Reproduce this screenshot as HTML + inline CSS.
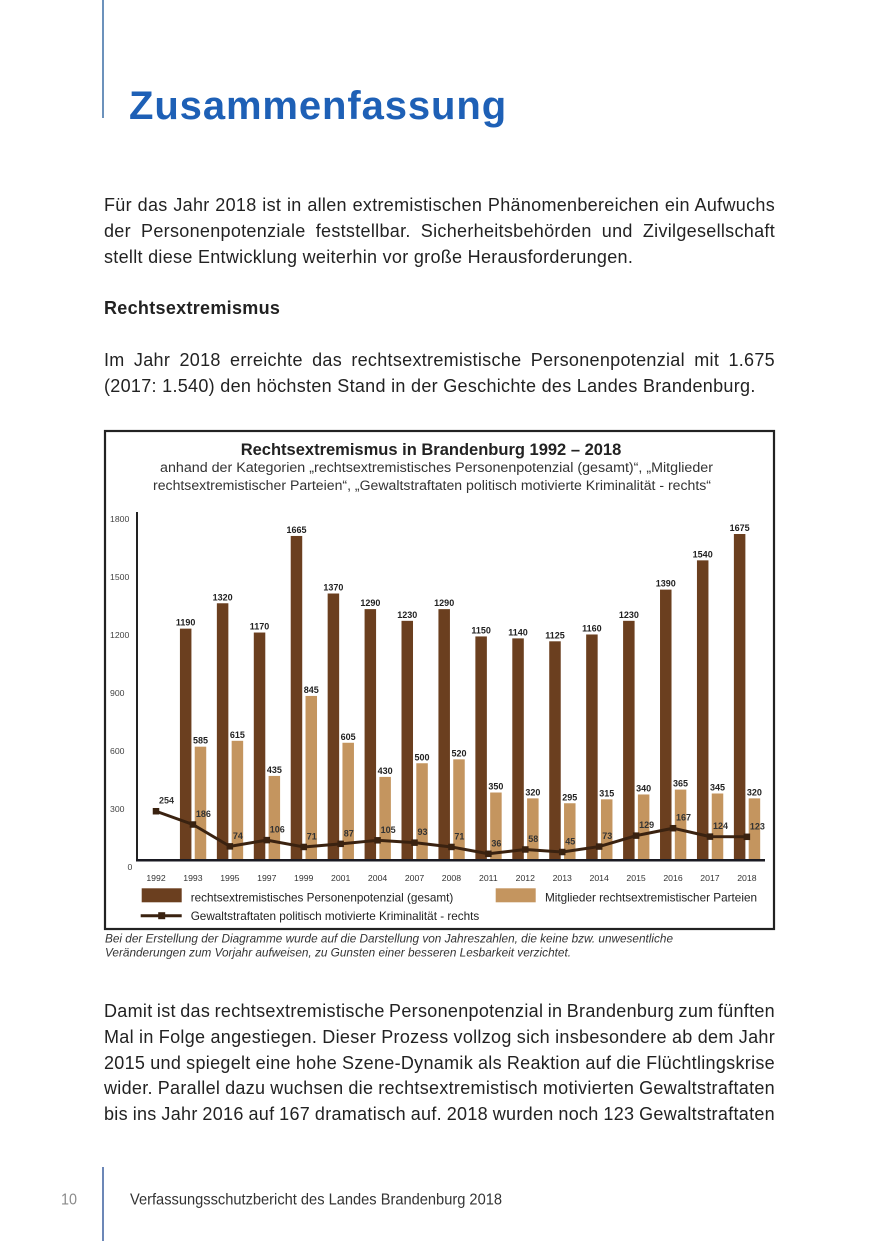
<!DOCTYPE html>
<html>
<head>
<meta charset="utf-8">
<style>
  html, body { margin:0; padding:0; background:#fff; }
  body { width:875px; height:1241px; position:relative; overflow:hidden;
         font-family:"Liberation Sans", Arial, sans-serif; color:#222; }
  .ln { position:absolute; left:104px; width:671px; font-size:18px; line-height:26px;
        letter-spacing:0.3px; white-space:normal; }
  .j { text-align:justify; text-align-last:justify; word-spacing:-4px; }
  .h1 { position:absolute; left:129px; top:86px; font-size:40px; line-height:40px;
        font-weight:bold; color:#1e60b6; letter-spacing:0.9px; white-space:nowrap; }
  svg { position:absolute; left:0; top:0; }
</style>
</head>
<body>

<div class="h1">Zusammenfassung</div>

<div class="ln j" style="top:192px">Für das Jahr 2018 ist in allen extremistischen Phänomenbereichen ein Aufwuchs</div>
<div class="ln j" style="top:218px">der Personenpotenziale feststellbar. Sicherheitsbehörden und Zivilgesellschaft</div>
<div class="ln" style="top:244px">stellt diese Entwicklung weiterhin vor große Herausforderungen.</div>

<div class="ln" style="top:295px;font-weight:bold">Rechtsextremismus</div>

<div class="ln j" style="top:347px">Im Jahr 2018 erreichte das rechtsextremistische Personenpotenzial mit 1.675</div>
<div class="ln" style="top:372.6px">(2017: 1.540) den höchsten Stand in der Geschichte des Landes Brandenburg.</div>

<div class="ln j" style="top:998.1px">Damit ist das rechtsextremistische Personenpotenzial in Brandenburg zum fünften</div>
<div class="ln j" style="top:1024.1px">Mal in Folge angestiegen. Dieser Prozess vollzog sich insbesondere ab dem Jahr</div>
<div class="ln j" style="top:1049.8px">2015 und spiegelt eine hohe Szene-Dynamik als Reaktion auf die Flüchtlingskrise</div>
<div class="ln j" style="top:1075.1px">wider. Parallel dazu wuchsen die rechtsextremistisch motivierten Gewaltstraftaten</div>
<div class="ln j" style="top:1100.8px">bis ins Jahr 2016 auf 167 dramatisch auf. 2018 wurden noch 123 Gewaltstraftaten</div>

<svg width="875" height="1241" viewBox="0 0 875 1241" xmlns="http://www.w3.org/2000/svg" font-family="Liberation Sans, Arial, sans-serif">
  <!-- page rules -->
  <line x1="103" y1="0" x2="103" y2="118" stroke="#3b6ea5" stroke-width="1.5"/>
  <line x1="103" y1="1167" x2="103" y2="1241" stroke="#3b5f9f" stroke-width="1.5"/>
  <text x="61" y="1204.3" font-size="16" fill="#8a8a8a" textLength="16" lengthAdjust="spacingAndGlyphs">10</text>
  <text x="130" y="1204.3" font-size="16" fill="#333" textLength="372" lengthAdjust="spacingAndGlyphs">Verfassungsschutzbericht des Landes Brandenburg 2018</text>

  <!-- chart box -->
  <rect x="105" y="431" width="669" height="498" fill="#fff" stroke="#222" stroke-width="2.2"/>

  <text x="431" y="455" font-size="16.5" font-weight="bold" fill="#222" text-anchor="middle">Rechtsextremismus in Brandenburg 1992 – 2018</text>
  <text x="436.5" y="472" font-size="14.2" fill="#333" text-anchor="middle" textLength="553" lengthAdjust="spacingAndGlyphs">anhand der Kategorien „rechtsextremistisches Personenpotenzial (gesamt)“, „Mitglieder</text>
  <text x="432" y="490" font-size="14.1" fill="#333" text-anchor="middle" textLength="558" lengthAdjust="spacingAndGlyphs">rechtsextremistischer Parteien“, „Gewaltstraftaten politisch motivierte Kriminalität - rechts“</text>

  <!-- y labels -->
  <g font-size="8.7" fill="#444">
    <text x="110" y="522">1800</text>
    <text x="110" y="580">1500</text>
    <text x="110" y="638">1200</text>
    <text x="110" y="696">900</text>
    <text x="110" y="754">600</text>
    <text x="110" y="812">300</text>
    <text x="127.5" y="870">0</text>
  </g>

  <!-- dark bars -->
  <g fill="#6b3f1f">
    <rect x="179.93" y="628.63" width="11.5" height="231.37"/>
    <rect x="216.86" y="603.27" width="11.5" height="256.73"/>
    <rect x="253.79" y="632.53" width="11.5" height="227.47"/>
    <rect x="290.72" y="535.96" width="11.5" height="324.04"/>
    <rect x="327.65" y="593.51" width="11.5" height="266.49"/>
    <rect x="364.58" y="609.12" width="11.5" height="250.88"/>
    <rect x="401.51" y="620.83" width="11.5" height="239.17"/>
    <rect x="438.44" y="609.12" width="11.5" height="250.88"/>
    <rect x="475.37" y="636.43" width="11.5" height="223.57"/>
    <rect x="512.30" y="638.39" width="11.5" height="221.61"/>
    <rect x="549.23" y="641.31" width="11.5" height="218.69"/>
    <rect x="586.16" y="634.48" width="11.5" height="225.52"/>
    <rect x="623.09" y="620.83" width="11.5" height="239.17"/>
    <rect x="660.02" y="589.61" width="11.5" height="270.39"/>
    <rect x="696.95" y="560.35" width="11.5" height="299.65"/>
    <rect x="733.88" y="534.01" width="11.5" height="325.99"/>
  </g>
  <!-- light bars -->
  <g fill="#c4955f">
    <rect x="194.73" y="746.67" width="11.5" height="113.33"/>
    <rect x="231.66" y="740.81" width="11.5" height="119.19"/>
    <rect x="268.59" y="775.93" width="11.5" height="84.07"/>
    <rect x="305.52" y="695.94" width="11.5" height="164.06"/>
    <rect x="342.45" y="742.76" width="11.5" height="117.24"/>
    <rect x="379.38" y="776.91" width="11.5" height="83.09"/>
    <rect x="416.31" y="763.25" width="11.5" height="96.75"/>
    <rect x="453.24" y="759.35" width="11.5" height="100.65"/>
    <rect x="490.17" y="792.51" width="11.5" height="67.49"/>
    <rect x="527.10" y="798.37" width="11.5" height="61.63"/>
    <rect x="564.03" y="803.25" width="11.5" height="56.75"/>
    <rect x="600.96" y="799.34" width="11.5" height="60.66"/>
    <rect x="637.89" y="794.47" width="11.5" height="65.53"/>
    <rect x="674.82" y="789.59" width="11.5" height="70.41"/>
    <rect x="711.75" y="793.49" width="11.5" height="66.51"/>
    <rect x="748.68" y="798.37" width="11.5" height="61.63"/>
  </g>

  <!-- axes -->
  <line x1="137" y1="512" x2="137" y2="861" stroke="#222" stroke-width="2"/>
  <line x1="136" y1="860.3" x2="765" y2="860.3" stroke="#1a1a22" stroke-width="2.5"/>

  <!-- line series -->
  <polyline fill="none" stroke="#3a2210" stroke-width="3" stroke-linejoin="round"
    points="156,811.24 192.93,824.51 229.86,846.36 266.79,840.12 303.72,846.95 340.65,843.83 377.58,840.31 414.51,842.66 451.44,846.95 488.37,853.78 525.3,849.48 562.23,852.02 599.16,846.56 636.09,835.63 673.02,828.22 709.95,836.61 746.88,836.8"/>
  <g fill="#3a2210">
    <rect x="152.75" y="807.99" width="6.5" height="6.5"/>
    <rect x="189.68" y="821.26" width="6.5" height="6.5"/>
    <rect x="226.61" y="843.11" width="6.5" height="6.5"/>
    <rect x="263.54" y="836.87" width="6.5" height="6.5"/>
    <rect x="300.47" y="843.70" width="6.5" height="6.5"/>
    <rect x="337.40" y="840.58" width="6.5" height="6.5"/>
    <rect x="374.33" y="837.06" width="6.5" height="6.5"/>
    <rect x="411.26" y="839.41" width="6.5" height="6.5"/>
    <rect x="448.19" y="843.70" width="6.5" height="6.5"/>
    <rect x="485.12" y="850.53" width="6.5" height="6.5"/>
    <rect x="522.05" y="846.23" width="6.5" height="6.5"/>
    <rect x="558.98" y="848.77" width="6.5" height="6.5"/>
    <rect x="595.91" y="843.31" width="6.5" height="6.5"/>
    <rect x="632.84" y="832.38" width="6.5" height="6.5"/>
    <rect x="669.77" y="824.97" width="6.5" height="6.5"/>
    <rect x="706.70" y="833.36" width="6.5" height="6.5"/>
    <rect x="743.63" y="833.55" width="6.5" height="6.5"/>
  </g>

  <!-- dark bar labels -->
  <g font-size="9" font-weight="bold" fill="#222" text-anchor="middle">
    <text x="185.68" y="625.6">1190</text>
    <text x="222.61" y="600.3">1320</text>
    <text x="259.54" y="629.5">1170</text>
    <text x="296.47" y="533.0">1665</text>
    <text x="333.40" y="590.5">1370</text>
    <text x="370.33" y="606.1">1290</text>
    <text x="407.26" y="617.8">1230</text>
    <text x="444.19" y="606.1">1290</text>
    <text x="481.12" y="633.4">1150</text>
    <text x="518.05" y="635.4">1140</text>
    <text x="554.98" y="638.3">1125</text>
    <text x="591.91" y="631.5">1160</text>
    <text x="628.84" y="617.8">1230</text>
    <text x="665.77" y="586.6">1390</text>
    <text x="702.70" y="557.4">1540</text>
    <text x="739.63" y="531.0">1675</text>
  </g>
  <!-- light bar labels -->
  <g font-size="9" font-weight="bold" fill="#222" text-anchor="middle">
    <text x="200.48" y="743.7">585</text>
    <text x="237.41" y="737.8">615</text>
    <text x="274.34" y="772.9">435</text>
    <text x="311.27" y="692.9">845</text>
    <text x="348.20" y="739.8">605</text>
    <text x="385.13" y="773.9">430</text>
    <text x="422.06" y="760.3">500</text>
    <text x="458.99" y="756.4">520</text>
    <text x="495.92" y="789.5">350</text>
    <text x="532.85" y="795.4">320</text>
    <text x="569.78" y="800.3">295</text>
    <text x="606.71" y="796.3">315</text>
    <text x="643.64" y="791.5">340</text>
    <text x="680.57" y="786.6">365</text>
    <text x="717.50" y="790.5">345</text>
    <text x="754.43" y="795.4">320</text>
  </g>
  <!-- line labels -->
  <g font-size="9" font-weight="bold" fill="#333">
    <text x="159" y="803.7">254</text>
    <text x="195.9" y="817.0">186</text>
    <text x="232.9" y="838.9">74</text>
    <text x="269.8" y="832.6">106</text>
    <text x="306.7" y="839.5">71</text>
    <text x="343.7" y="836.3">87</text>
    <text x="380.6" y="832.8">105</text>
    <text x="417.5" y="835.2">93</text>
    <text x="454.4" y="839.5">71</text>
    <text x="491.4" y="846.3">36</text>
    <text x="528.3" y="842.0">58</text>
    <text x="565.2" y="844.5">45</text>
    <text x="602.2" y="839.1">73</text>
    <text x="639.1" y="828.1">129</text>
    <text x="676.0" y="820.7">167</text>
    <text x="713.0" y="829.1">124</text>
    <text x="749.9" y="829.3">123</text>
  </g>

  <!-- x labels -->
  <g font-size="8.7" fill="#333" text-anchor="middle">
    <text x="156" y="881">1992</text>
    <text x="192.93" y="881">1993</text>
    <text x="229.86" y="881">1995</text>
    <text x="266.79" y="881">1997</text>
    <text x="303.72" y="881">1999</text>
    <text x="340.65" y="881">2001</text>
    <text x="377.58" y="881">2004</text>
    <text x="414.51" y="881">2007</text>
    <text x="451.44" y="881">2008</text>
    <text x="488.37" y="881">2011</text>
    <text x="525.3" y="881">2012</text>
    <text x="562.23" y="881">2013</text>
    <text x="599.16" y="881">2014</text>
    <text x="636.09" y="881">2015</text>
    <text x="673.02" y="881">2016</text>
    <text x="709.95" y="881">2017</text>
    <text x="746.88" y="881">2018</text>
  </g>

  <!-- legend -->
  <rect x="141.7" y="888.3" width="40" height="14" fill="#6b3f1f"/>
  <text x="190.7" y="901.3" font-size="12" fill="#222" textLength="262.6" lengthAdjust="spacingAndGlyphs">rechtsextremistisches Personenpotenzial (gesamt)</text>
  <rect x="495.7" y="888.3" width="40" height="14" fill="#c4955f"/>
  <text x="545" y="901.3" font-size="12" fill="#222" textLength="212" lengthAdjust="spacingAndGlyphs">Mitglieder rechtsextremistischer Parteien</text>
  <line x1="140.7" y1="915.7" x2="181.7" y2="915.7" stroke="#3a2210" stroke-width="3"/>
  <rect x="158.2" y="912.2" width="7" height="7" fill="#3a2210"/>
  <text x="190.7" y="920" font-size="12" fill="#222" textLength="288.6" lengthAdjust="spacingAndGlyphs">Gewaltstraftaten politisch motivierte Kriminalität - rechts</text>

  <!-- footnote -->
  <text x="105" y="942.5" font-size="11.7" font-style="italic" fill="#333" textLength="568" lengthAdjust="spacingAndGlyphs">Bei der Erstellung der Diagramme wurde auf die Darstellung von Jahreszahlen, die keine bzw. unwesentliche</text>
  <text x="105" y="956.5" font-size="11.7" font-style="italic" fill="#333" textLength="466" lengthAdjust="spacingAndGlyphs">Veränderungen zum Vorjahr aufweisen, zu Gunsten einer besseren Lesbarkeit verzichtet.</text>
</svg>

</body>
</html>
